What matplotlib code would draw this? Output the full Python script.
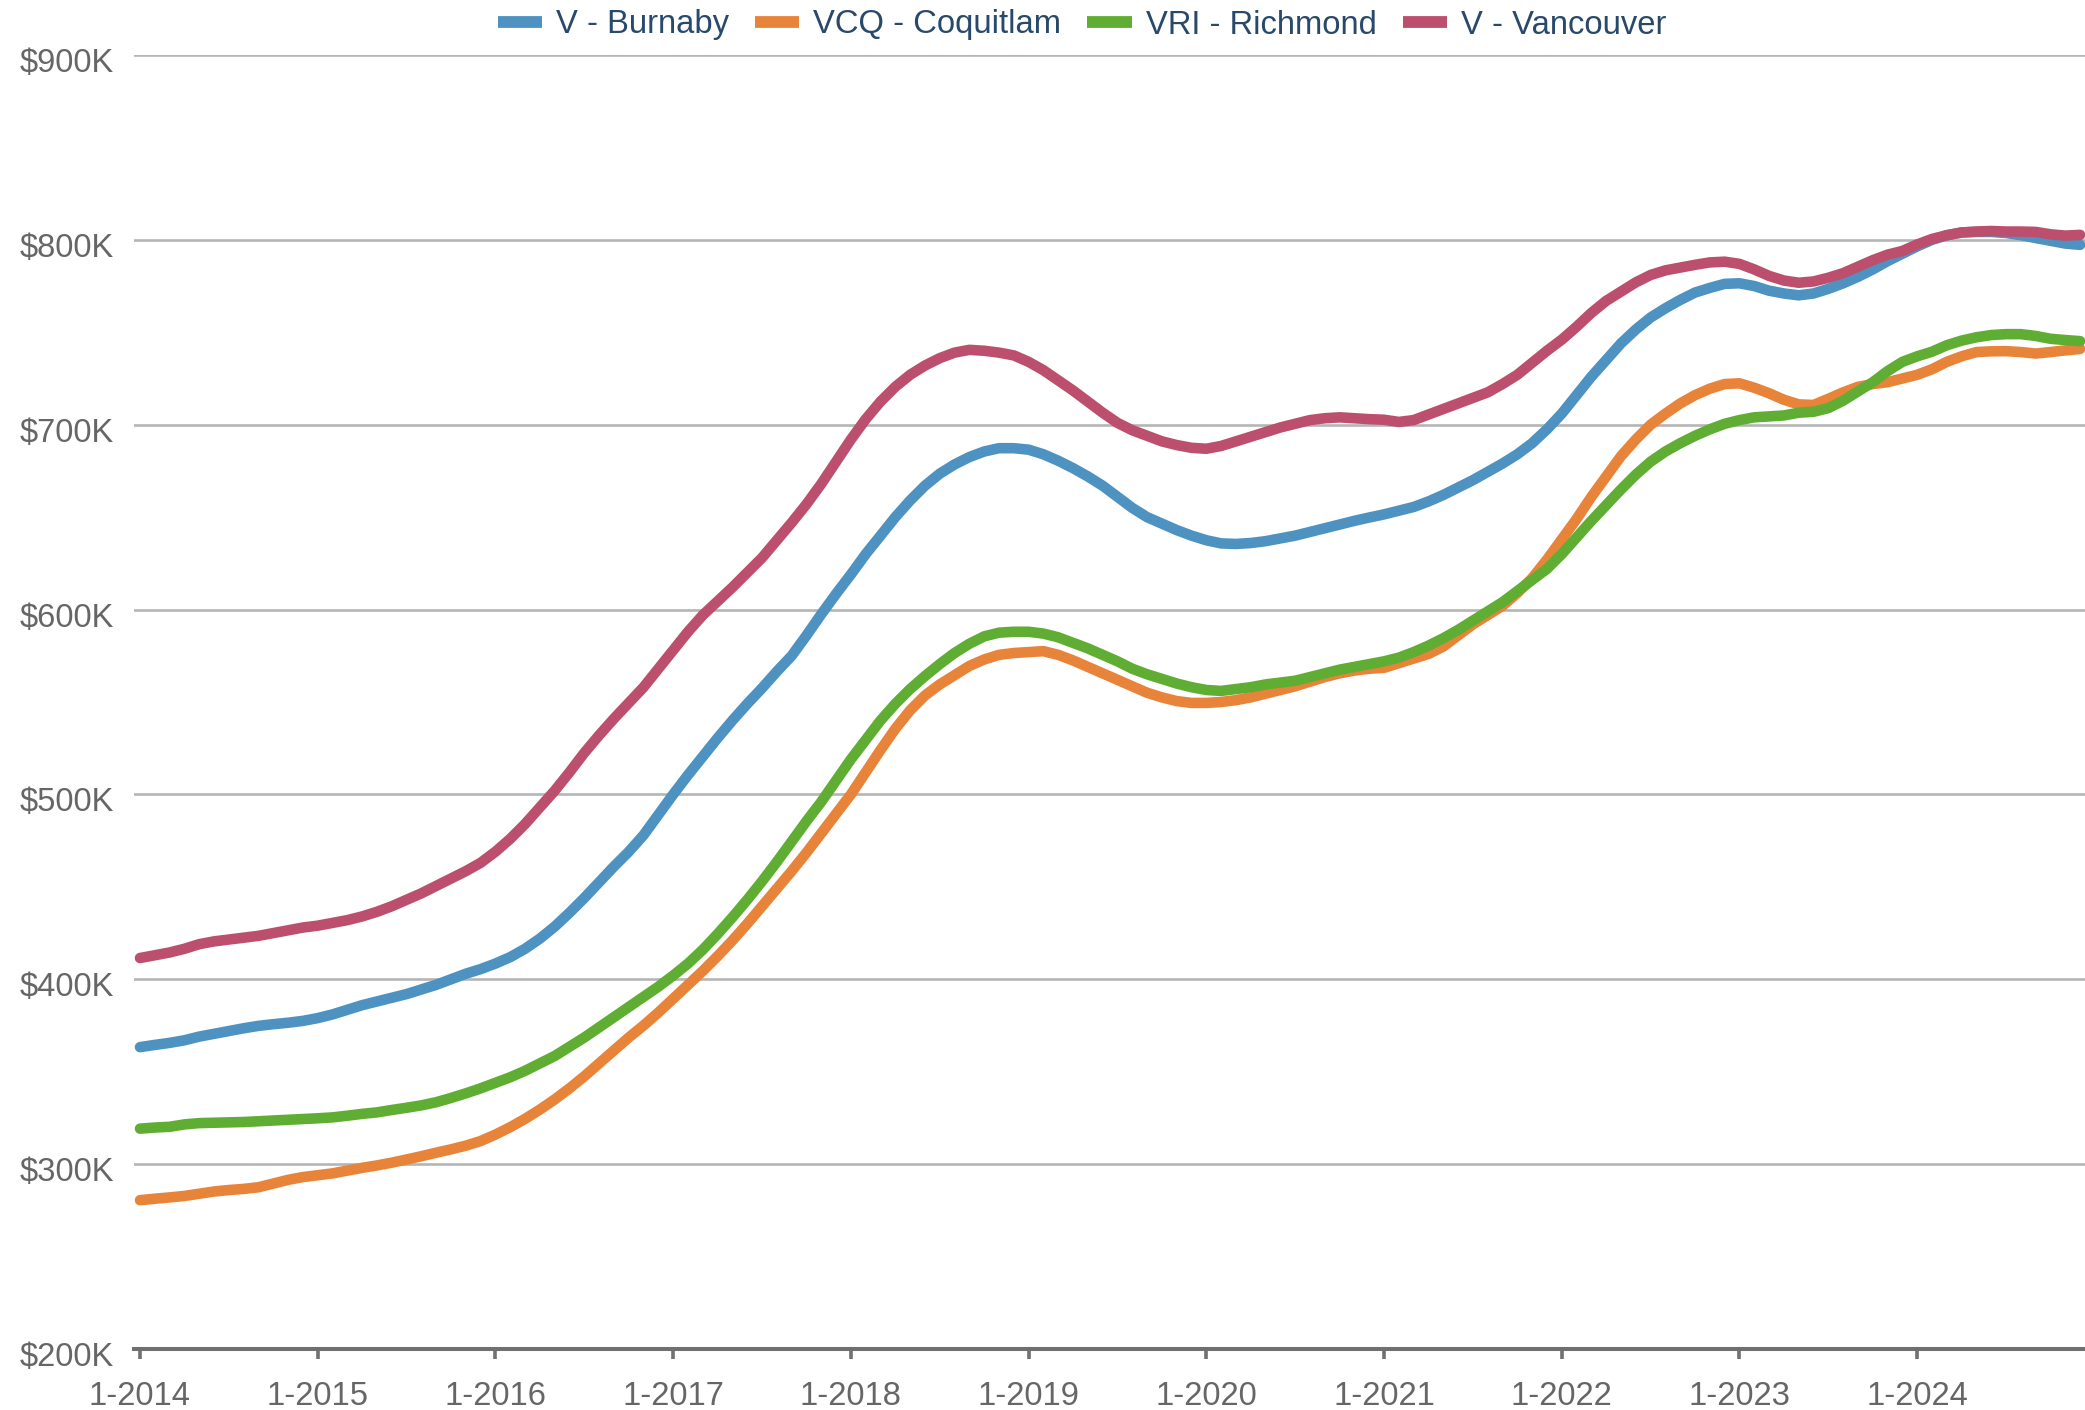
import matplotlib
matplotlib.use("Agg")
import matplotlib.pyplot as plt
from matplotlib.lines import Line2D
import matplotlib.transforms as mtransforms
import numpy as np

plt.rcParams['font.family'] = ['Liberation Sans', 'DejaVu Sans']

series_names = ["V - Burnaby", "VCQ - Coquitlam", "VRI - Richmond", "V - Vancouver"]
series_colors = ["#4d92c1", "#e8833a", "#5fae33", "#bc4f6d"]

# monthly benchmark prices (thousands of $), Jan 2014 .. Dec 2024
burnaby = [363.3, 364.5, 365.6, 367, 369, 370.5, 372, 373.5, 374.8, 375.7, 376.5, 377.5,
           379, 381, 383.5, 386, 388, 390, 392, 394.5, 397, 400, 403, 405.5,
           408.5, 412, 416.5, 422, 428.5, 436, 444, 452.5, 461, 469, 478, 489,
           500, 510.5, 520.5, 530.5, 540, 549, 557.5, 566.5, 575, 586, 597.5, 608.5,
           619, 630, 640, 650, 659, 667, 673.5, 678.5, 682.5, 685.5, 687.3, 687.3,
           686.5, 684, 680.5, 676.5, 672, 667, 661, 655, 650, 646.5, 643, 640,
           637.5, 635.8, 635.5, 636, 637, 638.5, 640, 642, 644, 646, 648, 649.8,
           651.5, 653.5, 655.5, 658.5, 662, 666, 670, 674.5, 679, 684, 690, 697.5,
           706, 716, 726, 735, 744, 751.5, 758, 763, 767.5, 771.5, 774, 776.2,
           776.5, 775, 772.5, 771, 770, 771, 773.5, 776.5, 780, 784, 788.5, 792.5,
           796.5, 800, 802.5, 804, 804.3, 804.3, 803.7, 802.5, 801, 799.5, 798, 797.3]

coquitlam = [280.5, 281.3, 282, 282.8, 284, 285.2, 286, 286.6, 287.5, 289.5, 291.5, 293,
             294, 295, 296.5, 298, 299.3, 300.8, 302.5, 304.3, 306.2, 308, 310, 312.5,
             316, 320, 324.5, 329.5, 335, 341, 347.5, 354.5, 361.5, 368.5, 375, 382,
             389.5, 397, 404.5, 412.5, 421, 430, 439.5, 449, 458.5, 468.5, 479, 489.5,
             500, 512, 524, 535.5, 545.5, 553.5, 559.5, 564.5, 569.5, 573, 575.5, 576.5,
             577, 577.5, 575.5, 572.5, 569, 565.5, 562, 558.5, 555, 552.5, 550.5, 549.5,
             549.5, 550, 551, 552.5, 554.5, 556.5, 558.5, 561, 563.5, 565.5, 567, 568,
             568.5, 571, 573.5, 576, 580, 586, 592, 597, 602, 609, 617, 627,
             638, 649, 661, 672, 683, 692, 700, 706, 711.5, 716, 719.5, 722,
             722.4, 720, 717, 713.5, 711, 710.7, 714, 717.5, 720.5, 722, 723, 725,
             727, 730, 734, 737, 739.3, 739.7, 739.8, 739.3, 738.5, 739.3, 740.2, 741]

richmond = [319.2, 319.8, 320.2, 321.5, 322.2, 322.4, 322.6, 322.8, 323.2, 323.6, 324, 324.4,
            324.8, 325.3, 326.2, 327.2, 328, 329.3, 330.5, 331.8, 333.5, 335.8, 338.3, 341,
            344, 347, 350.5, 354.5, 358.5, 363.5, 368.5, 374, 379.5, 385, 390.5, 396,
            402, 408.5, 416, 424.5, 433.5, 443, 453, 463.5, 474.5, 485.5, 496, 507.5,
            519, 529.5, 540, 549, 557, 564, 570.5, 576.5, 581.5, 585.5, 587.5, 588,
            588, 587, 585, 582, 579, 575.5, 572, 568, 565, 562.5, 560, 558,
            556.5, 556, 557, 558, 559.5, 560.5, 561.5, 563.5, 565.5, 567.5, 569, 570.5,
            572, 574, 577, 580.5, 584.5, 589, 594, 599, 604, 610, 616, 622,
            630, 639, 648, 656.5, 665, 673, 680, 685.5, 690, 694, 697.5, 700.5,
            702.5, 704, 704.5, 705, 706.5, 707, 709, 713, 718, 723, 729, 734,
            737, 739.5, 743, 745.5, 747.3, 748.5, 749, 749, 748, 746.5, 745.8, 745.2]

vancouver = [411.5, 413, 414.5, 416.5, 419, 420.5, 421.5, 422.5, 423.5, 425, 426.5, 428,
             429, 430.5, 432, 434, 436.5, 439.5, 443, 446.5, 450.5, 454.5, 458.5, 463,
             469, 476, 484, 493, 502, 512, 522.5, 532, 541, 549.5, 558, 568,
             578, 588, 597, 604.5, 612, 620, 628, 637.5, 647, 657, 668, 680,
             692, 703, 712.5, 720.5, 727, 732, 736, 739, 740.5, 740, 739, 737.5,
             734, 729.5, 724, 718.5, 712.5, 706.5, 701, 697, 694, 691, 689, 687.5,
             687, 688.5, 691, 693.5, 696, 698.5, 700.5, 702.5, 703.5, 704, 703.5, 703,
             702.7, 701.5, 702.5, 705.5, 708.5, 711.5, 714.5, 717.5, 722, 727, 733.5, 740,
             746, 753, 760.5, 767, 772, 777, 781, 783.5, 785, 786.5, 787.8, 788.2,
             787, 784, 780.5, 778, 776.8, 777.5, 779.5, 782, 785.5, 789, 792, 794,
             797.5, 800.5, 802.5, 804, 804.5, 804.8, 804.5, 804.5, 804.3, 803, 802.3, 802.7]

x_tick_labels = ["1-2014", "1-2015", "1-2016", "1-2017", "1-2018", "1-2019",
                 "1-2020", "1-2021", "1-2022", "1-2023", "1-2024"]
y_ticks = [200, 300, 400, 500, 600, 700, 800, 900]
y_tick_labels = ["$200K", "$300K", "$400K", "$500K", "$600K", "$700K", "$800K", "$900K"]

all_series = [burnaby, coquitlam, richmond, vancouver]

W, H = 2085, 1410
fig = plt.figure(figsize=(W / 100, H / 100), dpi=100)
left_px, right_px, top_px, bottom_px = 134, 2085, 55, 1349
ax = fig.add_axes([left_px / W, 1 - bottom_px / H, (right_px - left_px) / W, (bottom_px - top_px) / H])

months = np.arange(len(burnaby))
for vals, col in zip(all_series, series_colors):
    ax.plot(months, vals, color=col, lw=7.6, solid_capstyle='round',
            solid_joinstyle='round', zorder=3, clip_on=False)

ax.set_xlim(-0.405, 131.33)
ax.set_ylim(200, 900)

ax.set_yticks(y_ticks)
ax.set_yticklabels(y_tick_labels)
ax.set_xticks(np.arange(len(x_tick_labels)) * 12)
ax.set_xticklabels(x_tick_labels)

for sp in ['top', 'right', 'left']:
    ax.spines[sp].set_visible(False)
ax.spines['bottom'].set_color('#707070')
ax.spines['bottom'].set_linewidth(2.9)
ax.spines['bottom'].set_zorder(4)

for yv in y_ticks[1:]:
    ax.axhline(yv, color='#b5b5b5', lw=1.9, zorder=1)

ax.tick_params(axis='y', length=0, pad=14.5, labelsize=23.6, labelcolor='#666666')
ax.tick_params(axis='x', direction='out', length=7.5, width=2.6, color='#707070',
               pad=15.5, labelsize=23.6, labelcolor='#666666')

offset = mtransforms.ScaledTranslation(0, -5 / 100, fig.dpi_scale_trans)
for lab in ax.get_yticklabels():
    lab.set_transform(lab.get_transform() + offset)

handles = [Line2D([], [], color=c, lw=8.5, solid_capstyle='butt') for c in series_colors]
leg = fig.legend(handles, series_names, loc='center', bbox_to_anchor=(1082 / W, 1 - 25 / H),
                 ncol=4, frameon=False, fontsize=23.6, handlelength=1.35, handletextpad=0.42,
                 columnspacing=0.8, borderpad=0, borderaxespad=0)
for t in leg.get_texts():
    t.set_color('#29496b')

fig.savefig("out.png", dpi=100)
